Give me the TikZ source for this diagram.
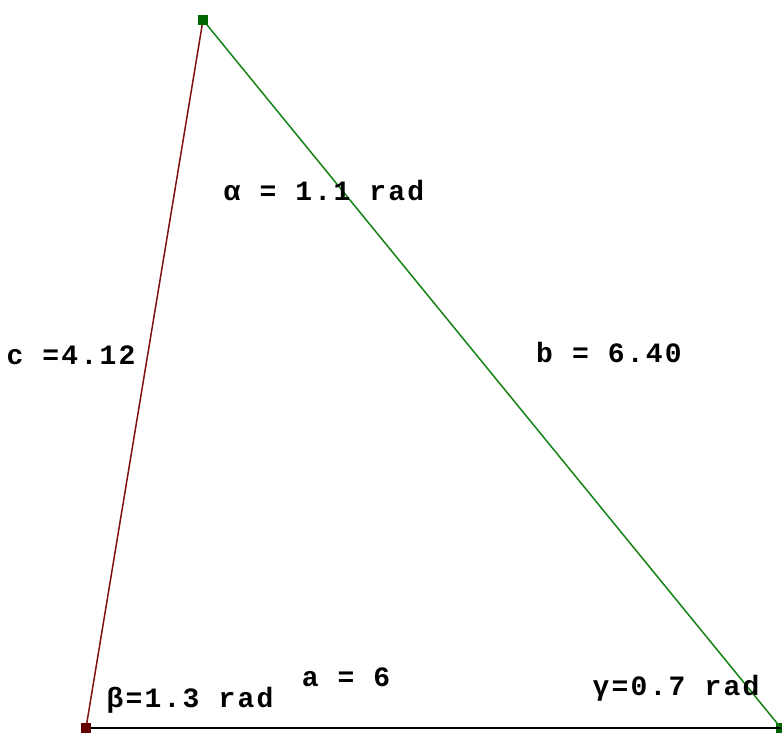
\documentclass[tikz,border=0pt]{standalone}
\usepackage{fontspec}
\newfontfamily\lblfont[LetterSpace=8]{Liberation Mono}
\definecolor{sidered}{RGB}{128,16,16}
\definecolor{sidegreen}{RGB}{20,130,20}
\definecolor{ptred}{RGB}{100,0,0}
\definecolor{ptgreen}{RGB}{0,100,0}

\begin{document}
\begin{tikzpicture}[x=1pt, y=-1pt,
  vertex/.style={rectangle, inner sep=0pt, minimum size=10pt},
  lbl/.style={font={\fontsize{28}{30}\selectfont\lblfont\bfseries}, text=black, inner sep=0pt}]
\useasboundingbox (0,0) rectangle (782,734);

\node[vertex, fill=ptgreen] (A) at (203,20) {};
\node[vertex, fill=ptred] (B) at (86,728) {};
\node[vertex, fill=ptgreen] (C) at (781,728) {};

\draw[line width=1.5pt, sidered] (A.center) -- (B.center);
\draw[line width=1.5pt, sidegreen] (A.center) -- (C.center);
\draw[line width=1.8pt, black] (B.center) -- (C.center);

\node[vertex, fill=ptgreen] at (A) {};
\node[vertex, fill=ptred] at (B) {};

\node[lbl] (alpha) at (324,190) {α = 1.1 rad};
\node[lbl] (clbl) at (71,355) {c =4.12};
\node[lbl] (blbl) at (609,352) {b = 6.40};
\node[lbl] (albl) at (346,677) {a = 6};
\node[lbl] (beta) at (190,700) {β=1.3 rad};
\node[lbl] (gamma) at (676,688) {γ=0.7 rad};
\end{tikzpicture}
\end{document}
